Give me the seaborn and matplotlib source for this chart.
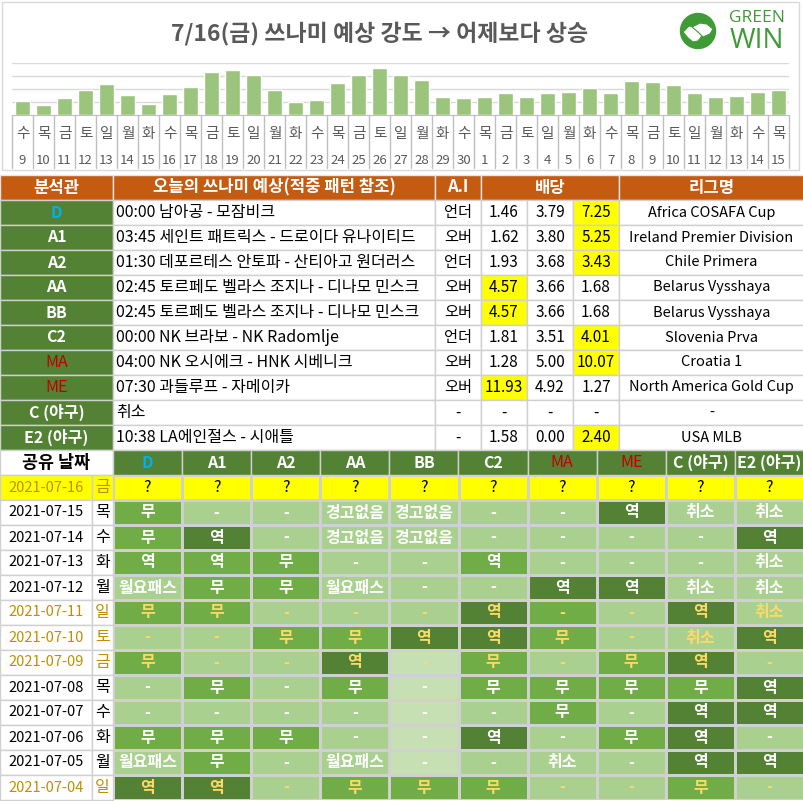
import matplotlib
matplotlib.use("Agg")
import matplotlib.pyplot as plt
import numpy as np
import pandas as pd
import seaborn as sns
from matplotlib.colors import ListedColormap
from matplotlib.patches import Rectangle, Circle, Polygon

# ---- bar chart data (tsunami strength, 6/9 ~ 7/15)
bar_dates = ["9", "10", "11", "12", "13", "14", "15", "16", "17", "18", "19", "20", "21",
             "22", "23", "24", "25", "26", "27", "28", "29", "30", "1", "2", "3", "4",
             "5", "6", "7", "8", "9", "10", "11", "12", "13", "14", "15"]
bar_days = ["수", "목", "금", "토", "일", "월", "화", "수", "목", "금", "토", "일", "월",
            "화", "수", "목", "금", "토", "일", "월", "화", "수", "목", "금", "토", "일",
            "월", "화", "수", "목", "금", "토", "일", "월", "화", "수", "목"]
strength = [1.10, 0.79, 1.33, 1.95, 2.41, 1.56, 0.87, 1.64, 2.18, 3.33, 3.49, 3.10, 1.95,
            1.03, 1.18, 2.49, 3.10, 3.64, 3.10, 2.72, 1.41, 1.33, 1.41, 1.72, 1.41, 1.72,
            1.79, 2.10, 1.72, 2.64, 2.56, 2.33, 1.72, 1.41, 1.49, 1.79, 1.95]

# ---- today's picks table
analysts = ["D", "A1", "A2", "AA", "BB", "C2", "MA", "ME", "C (야구)", "E2 (야구)"]
matches = ["00:00 남아공 - 모잠비크",
           "03:45 세인트 패트릭스 - 드로이다 유나이티드",
           "01:30 데포르테스 안토파 - 산티아고 원더러스",
           "02:45 토르페도 벨라스 조지나 - 디나모 민스크",
           "02:45 토르페도 벨라스 조지나 - 디나모 민스크",
           "00:00 NK 브라보 - NK Radomlje",
           "04:00 NK 오시에크 - HNK 시베니크",
           "07:30 과들루프 - 자메이카",
           "취소",
           "10:38 LA에인절스 - 시애틀"]
ai_pick = ["언더", "오버", "언더", "오버", "오버", "언더", "오버", "오버", "-", "-"]
odds_home = ["1.46", "1.62", "1.93", "4.57", "4.57", "1.81", "1.28", "11.93", "-", "1.58"]
odds_draw = ["3.79", "3.80", "3.68", "3.66", "3.66", "3.51", "5.00", "4.92", "-", "0.00"]
odds_away = ["7.25", "5.25", "3.43", "1.68", "1.68", "4.01", "10.07", "1.27", "-", "2.40"]
odds_pick = [2, 2, 2, 0, 0, 2, 2, 0, None, 2]
leagues = ["Africa COSAFA Cup", "Ireland Premier Division", "Chile Primera",
           "Belarus Vysshaya", "Belarus Vysshaya", "Slovenia Prva", "Croatia 1",
           "North America Gold Cup", "-", "USA MLB"]

# ---- shared history table
share_dates = ["2021-07-16", "2021-07-15", "2021-07-14", "2021-07-13", "2021-07-12",
               "2021-07-11", "2021-07-10", "2021-07-09", "2021-07-08", "2021-07-07",
               "2021-07-06", "2021-07-05", "2021-07-04"]
share_days = ["금", "목", "수", "화", "월", "일", "토", "금", "목", "수", "화", "월", "일"]
gold_dates = ["2021-07-16", "2021-07-11", "2021-07-10", "2021-07-09", "2021-07-04"]
results = [
    ["?", "?", "?", "?", "?", "?", "?", "?", "?", "?"],
    ["무", "-", "-", "경고없음", "경고없음", "-", "-", "역", "취소", "취소"],
    ["무", "역", "-", "경고없음", "경고없음", "-", "-", "-", "-", "역"],
    ["역", "역", "무", "-", "-", "역", "-", "-", "-", "취소"],
    ["월요패스", "무", "무", "월요패스", "-", "-", "역", "역", "취소", "취소"],
    ["무", "무", "-", "-", "-", "역", "-", "-", "역", "취소"],
    ["-", "-", "무", "무", "역", "역", "무", "-", "취소", "역"],
    ["무", "-", "-", "역", "-", "무", "-", "무", "역", "-"],
    ["-", "무", "-", "무", "-", "무", "무", "무", "무", "역"],
    ["-", "-", "-", "-", "-", "-", "무", "-", "역", "역"],
    ["무", "무", "무", "-", "-", "역", "-", "무", "역", "-"],
    ["월요패스", "무", "-", "월요패스", "-", "-", "취소", "-", "역", "역"],
    ["역", "역", "-", "무", "무", "무", "-", "-", "무", "-"],
]
# shade level: 0 pale, 1 light, 2 mid, 3 dark, 4 today
shade = [
    [4, 4, 4, 4, 4, 4, 4, 4, 4, 4],
    [2, 1, 1, 1, 1, 1, 1, 3, 1, 1],
    [2, 3, 1, 1, 1, 1, 1, 1, 1, 3],
    [2, 2, 2, 1, 1, 2, 1, 1, 1, 1],
    [1, 2, 2, 1, 1, 1, 3, 3, 1, 1],
    [2, 2, 1, 1, 1, 3, 2, 1, 3, 1],
    [1, 1, 2, 2, 3, 3, 2, 1, 1, 3],
    [2, 1, 1, 3, 0, 2, 1, 2, 3, 1],
    [1, 2, 1, 2, 0, 2, 2, 2, 2, 3],
    [1, 1, 1, 1, 0, 1, 2, 1, 3, 3],
    [2, 2, 2, 1, 0, 3, 1, 2, 3, 1],
    [1, 2, 1, 1, 0, 1, 1, 1, 3, 3],
    [3, 3, 1, 2, 2, 2, 1, 1, 2, 1],
]

W, H = 804, 801
ORANGE = "#C55A11"
DARK = "#548235"
GRID = "#D0D0D0"
GOLD = "#BF8F00"
BLUE = "#00B0F0"
RED = "#C00000"
LOGO = "#3E9B36"
name_color = {"D": BLUE, "MA": RED, "ME": RED}

sns.set_style("white")
plt.rcParams["font.family"] = ["Noto Sans CJK KR", "DejaVu Sans"]

fig = plt.figure(figsize=(W / 100, H / 100), dpi=100)
bg = fig.add_axes([0, 0, 1, 1])
bg.set_xlim(0, W)
bg.set_ylim(H, 0)
bg.axis("off")


def px_axes(x0, y0, x1, y1):
    return fig.add_axes([x0 / W, (H - y1) / H, (x1 - x0) / W, (y1 - y0) / H])


# ---- header: title + logo
bg.add_patch(Rectangle((2, 2), 797, 168, facecolor="none", edgecolor="#D9D9D9", lw=1))
bg.text(380, 33, "7/16(금) 쓰나미 예상 강도 → 어제보다 상승", ha="center", va="center",
        fontsize=16.5, fontweight="bold", color="#595959")
bg.add_patch(Circle((698, 31), 17.5, color=LOGO))
left_hand = np.array([(-15, 1), (-9, -5), (-3, -4), (2, 1), (4, 5), (0, 10), (-5, 11),
                      (-10, 7)]) + (698, 31)
right_hand = np.array([(-6, -4), (2, -8), (9, -7), (15, -2), (12, 3), (5, 6), (0, 1)]) \
    + (698, 31)
bg.add_patch(Polygon(left_hand, closed=True, facecolor="white", edgecolor=LOGO, lw=0.8))
bg.add_patch(Polygon(right_hand, closed=True, facecolor="white", edgecolor=LOGO, lw=0.8))
bg.text(757, 18, "GREEN", ha="center", va="center", fontsize=12.5, color=LOGO,
        family=["Open Sans", "DejaVu Sans"])
bg.text(757, 41, "WIN", ha="center", va="center", fontsize=20, color=LOGO,
        family=["Open Sans", "DejaVu Sans"])

# ---- bar chart
CX0, CX1 = 12, 789
axb = px_axes(CX0, 63, CX1, 115)
sns.barplot(x=np.arange(len(strength)), y=strength, color="#9BC57D", width=0.68,
            saturation=1, ax=axb)
axb.set_xlim(-0.5, len(strength) - 0.5)
axb.set_ylim(0, 4)
axb.set_yticks([1, 2, 3, 4])
axb.yaxis.grid(True, color="#D9D9D9", lw=1)
axb.set_axisbelow(True)
axb.set_xticks([])
axb.set_yticklabels([])
axb.tick_params(left=False)
axb.set_xlabel("")
for s in ["top", "left", "right"]:
    axb.spines[s].set_visible(False)
axb.spines["bottom"].set_color("#BFBFBF")
axb.patch.set_alpha(0)

col_w = (CX1 - CX0) / len(strength)
for i in range(len(strength) + 1):
    bg.plot([CX0 + i * col_w] * 2, [115, 168], color="#BFBFBF", lw=1)
for i, (d, n) in enumerate(zip(bar_days, bar_dates)):
    cx = CX0 + (i + 0.5) * col_w
    bg.text(cx, 134, d, ha="center", va="center", fontsize=10.5, color="#595959")
    bg.text(cx, 160, n, ha="center", va="center", fontsize=9.5, color="#595959")

# ---- today's picks table
ROW = 25
edges = [0, 113, 435, 481, 527, 573, 619, 804]


def cell(x0, x1, y0, fc, text="", color="black", weight="normal", ha="center",
         ec=GRID, size=11):
    bg.add_patch(Rectangle((x0, y0), x1 - x0, ROW, facecolor=fc, edgecolor=ec, lw=1))
    if text:
        tx = (x0 + x1) / 2 if ha == "center" else x0 + 3
        bg.text(tx, y0 + ROW / 2, text, ha=ha, va="center", color=color,
                fontweight=weight, fontsize=size)


y0 = 175
for (a, b), lab in zip([(0, 113), (113, 435), (435, 481), (481, 619), (619, 804)],
                       ["분석관", "오늘의 쓰나미 예상(적중 패턴 참조)", "A.I", "배당", "리그명"]):
    cell(a, b, y0, ORANGE, lab, color="white", weight="bold", ec="#E6E6E6", size=12)

for r, name in enumerate(analysts):
    y = y0 + ROW * (r + 1)
    col = name_color.get(name, "white")
    cell(0, 113, y, DARK, name, color=col, weight="normal" if col == RED else "bold",
         size=11.5)
    cell(113, 435, y, "white", matches[r], ha="left", size=11.5)
    cell(435, 481, y, "white", ai_pick[r])
    for k, vals in enumerate([odds_home, odds_draw, odds_away]):
        fc = "#FFFF00" if odds_pick[r] == k else "white"
        cell(edges[3 + k], edges[4 + k], y, fc, vals[r])
    cell(619, 804, y, "white", leagues[r], size=10.5)

# ---- shared history table
y1 = 450
HX0 = 113
hcol = (W - HX0) / len(analysts)
cell(0, 113, y1, "white", "공유 날짜", weight="bold", size=12.5)
for k, name in enumerate(analysts):
    col = name_color.get(name, "white")
    cell(HX0 + k * hcol, HX0 + (k + 1) * hcol, y1, DARK, name, color=col,
         weight="normal" if col == RED else "bold", size=11.5)

for r, (d, wd) in enumerate(zip(share_dates, share_days)):
    y = y1 + ROW * (r + 1)
    fc = "#FFFF00" if r == 0 else "white"
    tc = GOLD if d in gold_dates else "black"
    cell(0, 92, y, fc, d, color=tc, size=10.5)
    cell(92, 113, y, fc, wd, color=tc, size=11.5)

axh = px_axes(HX0, 475, W, 475 + ROW * len(share_dates))
cmap = ListedColormap(["#C6E0B4", "#A9D08E", "#70AD47", DARK, "#FFFF00"])
shade_df = pd.DataFrame(shade, index=share_dates, columns=analysts)
sns.heatmap(shade_df, ax=axh, cmap=cmap, vmin=-0.5, vmax=4.5, annot=np.array(results),
            fmt="", cbar=False, linewidths=1, linecolor=GRID, xticklabels=False,
            yticklabels=False, annot_kws={"fontsize": 11.5, "fontweight": "bold"})
for t in axh.texts:
    row = int(t.get_position()[1])
    if row == 0:
        t.set_color("black")
        t.set_fontweight("normal")
    elif share_dates[row] in gold_dates:
        t.set_color("#FFD966")
    else:
        t.set_color("white")
axh.set_xlabel("")
axh.set_ylabel("")

fig.savefig("out.png", dpi=100)
